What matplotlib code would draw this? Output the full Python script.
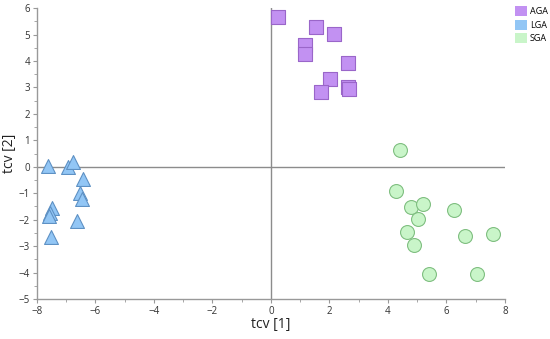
import matplotlib.pyplot as plt
from matplotlib.patches import Patch
import numpy as np

plt.rcParams['font.family'] = ['Open Sans', 'DejaVu Sans']

# AGA (squares)
aga_x = [0.24, 1.54, 2.15, 1.16, 1.16, 2.63, 2.02, 1.71, 2.63, 2.67]
aga_y = [5.67, 5.29, 5.03, 4.61, 4.27, 3.93, 3.33, 2.84, 3.02, 2.95]

# LGA (triangles)
lga_x = [-7.62, -6.94, -6.77, -6.43, -6.53, -6.46, -7.49, -7.55, -7.59, -6.63, -7.52]
lga_y = [0.04, -0.02, 0.17, -0.48, -1.00, -1.21, -1.55, -1.74, -1.85, -2.04, -2.65]

# SGA (circles)
sga_x = [4.41, 4.27, 4.79, 5.20, 6.26, 5.03, 4.65, 6.63, 7.59, 4.89, 5.40, 7.04]
sga_y = [0.62, -0.91, -1.51, -1.40, -1.63, -1.97, -2.46, -2.61, -2.53, -2.95, -4.05, -4.05]

groups = ["AGA", "LGA", "SGA"]
fills = ["#c291f2", "#92c6f5", "#c9f5c9"]
edges = ["#9a66c9", "#5e91c4", "#7fbf80"]

fig = plt.figure(figsize=(5.5, 3.39), dpi=100)
ax = fig.add_axes([0.067, 0.118, 0.851, 0.858])

ax.axhline(0, color="#8c8c8c", lw=1, zorder=1)
ax.axvline(0, color="#8c8c8c", lw=1, zorder=1)

ax.scatter(aga_x, aga_y, marker="s", s=90, c=fills[0], edgecolors=edges[0], linewidths=0.8, zorder=3)
ax.scatter(lga_x, lga_y, marker="^", s=100, c=fills[1], edgecolors=edges[1], linewidths=0.8, zorder=3)
ax.scatter(sga_x, sga_y, marker="o", s=100, c=fills[2], edgecolors=edges[2], linewidths=0.8, zorder=3)

ax.set_xlim(-8, 8)
ax.set_ylim(-5, 6)
ax.set_xticks(np.arange(-8, 9, 2))
ax.set_yticks(np.arange(-5, 7, 1))
ax.set_xticks(np.arange(-7, 8, 2), minor=True)
ax.set_yticks(np.arange(-4.5, 6, 1), minor=True)

for s in ["top", "right"]:
    ax.spines[s].set_visible(False)
for s in ["left", "bottom"]:
    ax.spines[s].set_color("#999999")
    ax.spines[s].set_linewidth(1)

ax.tick_params(which="major", length=3, width=0.8, color="#999999", labelsize=7, labelcolor="#333333", pad=2)
ax.tick_params(which="minor", length=2, width=0.6, color="#999999")

ax.set_xlabel("tcv [1]", fontsize=10, color="#222222", labelpad=0)
ax.set_ylabel("tcv [2]", fontsize=10, color="#222222", labelpad=1)

handles = [Patch(facecolor=f, edgecolor="none") for f in fills]
fig.legend(handles, groups, loc="upper left", bbox_to_anchor=(0.925, 1.0),
           frameon=False, fontsize=6.5, handlelength=1.35, handleheight=1.35,
           handletextpad=0.3, labelspacing=0.35, borderpad=0.2)

fig.savefig("out.png", dpi=100)
